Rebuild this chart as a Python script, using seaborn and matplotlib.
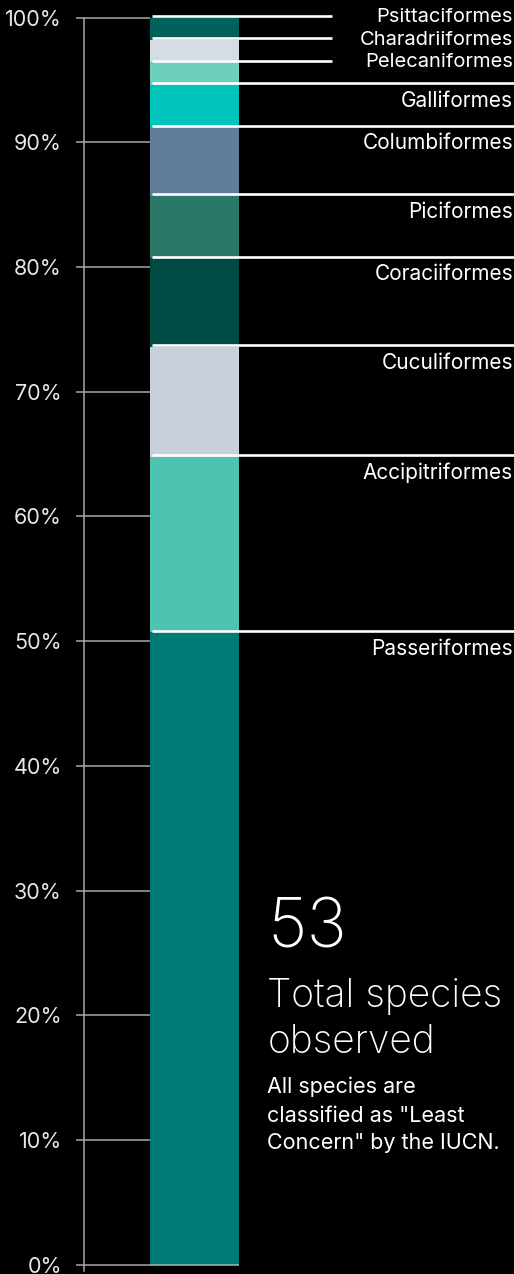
import matplotlib
matplotlib.use("Agg")
import matplotlib.pyplot as plt
import numpy as np
import pandas as pd
import seaborn as sns

# ------------------------------------------------------------------
# Data (share of observations per bird order, bottom to top, in %)
# ------------------------------------------------------------------
ORDERS = [
    "Passeriformes", "Accipitriformes", "Cuculiformes", "Coraciiformes",
    "Piciformes", "Columbiformes", "Galliformes", "Pelecaniformes",
    "Charadriiformes", "Psittaciformes",
]
SHARES = [50.7, 14.1, 8.8, 7.1, 5.0, 5.5, 3.4, 1.8, 1.8, 1.8]
COLORS = [
    "#007A74", "#4EC4B0", "#C8D1DB", "#004A44", "#2B7768",
    "#627D9B", "#00C5BD", "#6DCFBE", "#D5DCE4", "#00625A",
]
# small segments whose label sits beside a short line instead of under it
SHORT_LABELS = ["Pelecaniformes", "Charadriiformes", "Psittaciformes"]
TICKS = [0, 10, 20, 30, 40, 50, 60, 70, 80, 90, 100]

TOTAL_SPECIES = "53"
TOTAL_CAPTION = ["Total species", "observed"]
NOTE_LINES = ["All species are", 'classified as "Least', 'Concern" by the IUCN.']

FONT = ["Inter", "DejaVu Sans"]
FG = "#ffffff"
AXIS_GREY = "#a8a8a8"


def main():
    sns.set_theme(style="white")
    plt.rcParams["font.family"] = FONT

    df = pd.DataFrame({"order": ORDERS, "share": SHARES, "color": COLORS})
    df["top"] = df["share"].cumsum()
    df["group"] = "Orders"

    fig = plt.figure(figsize=(5.14, 12.74), dpi=100, facecolor="black")
    ax = fig.add_axes([84 / 514, 3 / 1274, 430 / 514, 1253.5 / 1274])
    ax.set_facecolor("black")

    # stacked bar: draw cumulative bars from the top segment downwards
    for _, row in df.iloc[::-1].iterrows():
        sns.barplot(
            x=[row["group"]], y=[row["top"]], color=row["color"],
            saturation=1, width=0.8, linewidth=0, ax=ax,
        )

    bar_left, bar_right = -0.4, 0.4
    x_min, x_max = -0.9933, 2.872
    ax.set_xlim(x_min, x_max)
    ax.set_ylim(-0.5, 100)

    # grey tick guides running from the axis to the bar
    ax.hlines(TICKS, x_min, bar_left, color=AXIS_GREY, lw=1.1, zorder=1,
              clip_on=False)
    ax.hlines(0, bar_left, bar_right, color="#9fbfbd", lw=1.1, zorder=3)

    # white separator lines + labels
    for _, row in df.iterrows():
        top = row["top"]
        if row["order"] in SHORT_LABELS:
            ax.hlines(top + 0.12, -0.38, 1.236, color=FG, lw=1.9, zorder=4,
                      clip_on=False)
            ax.text(2.863, top + 0.02, row["order"], color=FG, fontsize=14.5,
                    ha="right", va="center", zorder=5)
        else:
            ax.hlines(top + 0.12, -0.38, x_max, color=FG, lw=1.9, zorder=4,
                      clip_on=False)
            ax.text(2.863, top - 0.5, row["order"], color=FG, fontsize=15,
                    ha="right", va="top", zorder=5)

    # left axis
    ax.set_yticks(TICKS)
    ax.set_yticklabels([f"{t}%" for t in TICKS])
    ax.tick_params(axis="y", colors=AXIS_GREY, labelcolor="#e6e6e6",
                   labelsize=15.5, length=6, width=1.1, pad=10, left=True)
    ax.set_xticks([])
    ax.set_xlabel("")
    ax.set_ylabel("")
    for side in ["top", "right", "bottom"]:
        ax.spines[side].set_visible(False)
    ax.spines["left"].set_color(AXIS_GREY)
    ax.spines["left"].set_linewidth(1.1)

    # headline block
    tx = 0.655
    ax.text(tx, 25.4, TOTAL_SPECIES, color=FG, fontsize=49,
            fontweight="light", ha="left", va="baseline")
    for y, line in zip([20.65, 16.96], TOTAL_CAPTION):
        ax.text(tx, y, line, color=FG, fontsize=28, fontweight="light",
                ha="left", va="baseline")
    for y, line in zip([13.75, 11.42, 9.25], NOTE_LINES):
        ax.text(tx, y, line, color=FG, fontsize=15.5, ha="left",
                va="baseline")

    fig.savefig("out.png", dpi=100, facecolor="black")
    plt.close(fig)


if __name__ == "__main__":
    main()
